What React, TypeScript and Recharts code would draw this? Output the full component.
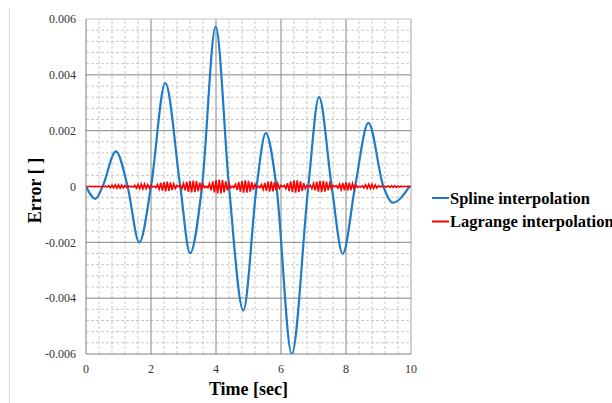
// App.tsx
import React from 'react';
import { LineChart, Line, XAxis, YAxis, ReferenceLine } from 'recharts';

// Spline interpolation error: extrema and zero crossings
const splineTime = [
  0, 0.29, 0.51, 0.92, 1.28, 1.64, 2.0, 2.44, 2.9, 3.2, 3.57, 3.99, 4.4, 4.84,
  5.25, 5.53, 5.86, 6.33, 6.84, 7.17, 7.56, 7.9, 8.28, 8.69, 9.15, 9.44, 9.97,
];
const splineError = [
  0, -0.00044, 0, 0.00126, 0, -0.002, 0, 0.0037, 0, -0.00239, 0, 0.00573, 0, -0.00444,
  0, 0.00191, 0, -0.006, 0, 0.0032, 0, -0.00241, 0, 0.00228, 0, -0.00058, 0.00003,
];

// Lagrange interpolation error, sampled every 0.05 s (fast ripple with beating envelope)
const lagrangeStep = 0.05;
const lagrangeError = [
  0, -1e-5, 1e-5, -1e-5, 1e-5, -1e-5, 1e-5, -1e-5, 1e-5, -1e-5, 1e-5, -1e-5, 1e-5, -2e-5, 3e-5, -4e-5,
  5e-5, -5e-5, 6e-5, -6e-5, 6e-5, -6e-5, 5e-5, -5e-5, 4e-5, -3e-5, 2e-5, -1e-5, 1e-5, -2e-5, 4e-5, -6e-5,
  7e-5, -8e-5, 9e-5, -9e-5, 9e-5, -8e-5, 7e-5, -6e-5, 4e-5, -2e-5, 1e-5, -4e-5, 7e-5, -10e-5, 13e-5, -15e-5,
  16e-5, -17e-5, 17e-5, -16e-5, 15e-5, -13e-5, 10e-5, -7e-5, 4e-5, -1e-5, 4e-5, -8e-5, 11e-5, -14e-5, 17e-5, -19e-5,
  20e-5, -21e-5, 21e-5, -20e-5, 19e-5, -17e-5, 14e-5, -11e-5, 8e-5, -4e-5, 1e-5, -5e-5, 10e-5, -14e-5, 18e-5, -21e-5,
  23e-5, -25e-5, 25e-5, -25e-5, 23e-5, -21e-5, 18e-5, -14e-5, 10e-5, -5e-5, 1e-5, -4e-5, 8e-5, -12e-5, 16e-5, -18e-5,
  20e-5, -22e-5, 22e-5, -22e-5, 20e-5, -18e-5, 16e-5, -12e-5, 8e-5, -4e-5, 1e-5, -4e-5, 7e-5, -11e-5, 13e-5, -16e-5,
  17e-5, -18e-5, 18e-5, -17e-5, 16e-5, -13e-5, 11e-5, -7e-5, 4e-5, -1e-5, 4e-5, -8e-5, 12e-5, -16e-5, 18e-5, -20e-5,
  22e-5, -22e-5, 22e-5, -20e-5, 18e-5, -16e-5, 12e-5, -8e-5, 4e-5, -1e-5, 4e-5, -8e-5, 11e-5, -14e-5, 17e-5, -18e-5,
  20e-5, -20e-5, 20e-5, -18e-5, 17e-5, -14e-5, 11e-5, -8e-5, 4e-5, -1e-5, 3e-5, -6e-5, 9e-5, -11e-5, 13e-5, -14e-5,
  15e-5, -15e-5, 14e-5, -13e-5, 11e-5, -9e-5, 6e-5, -3e-5, 1e-5, -2e-5, 3e-5, -5e-5, 6e-5, -7e-5, 8e-5, -8e-5,
  8e-5, -7e-5, 6e-5, -5e-5, 3e-5, -2e-5, 1e-5, -1e-5, 1e-5, -2e-5, 2e-5, -3e-5, 3e-5, -3e-5, 3e-5, -3e-5,
  2e-5, -2e-5, 1e-5, -1e-5, 1e-5, -1e-5, 1e-5, -1e-5, 0,
];

const xTicks = [0, 2, 4, 6, 8, 10];
const yTicks = [-0.006, -0.004, -0.002, 0, 0.002, 0.004, 0.006];
const majorX = [2, 4, 6, 8];
const majorY = [-0.004, -0.002, 0, 0.002, 0.004];
const minorX = [0.4, 0.8, 1.2, 1.6, 2.4, 2.8, 3.2, 3.6, 4.4, 4.8, 5.2, 5.6, 6.4, 6.8, 7.2, 7.6, 8.4, 8.8, 9.2, 9.6];
const minorY = [
  -0.0056, -0.0052, -0.0048, -0.0044, -0.0036, -0.0032, -0.0028, -0.0024, -0.0016, -0.0012, -0.0008, -0.0004,
  0.0004, 0.0008, 0.0012, 0.0016, 0.0024, 0.0028, 0.0032, 0.0036, 0.0044, 0.0048, 0.0052, 0.0056,
];

const seriesNames = ['Spline interpolation', 'Lagrange interpolation'];
const seriesColors = ['#1f7bc6', '#ff0000'];

const splineData = splineTime.map((t, i) => ({ t, v: splineError[i] }));
const lagrangeData = lagrangeError.map((v, i) => ({ t: +(i * lagrangeStep).toFixed(2), v }));

const serif = '"Liberation Serif", "Times New Roman", serif';
const tickTextStyle = { fontFamily: serif, fontSize: 12, fill: '#333' };

// custom ticks so the serif face is actually applied
const XTick = (props: any) => (
  <text x={props.x} y={props.y} dy="0.71em" textAnchor="middle" style={tickTextStyle}>
    {props.payload.value}
  </text>
);
const YTick = (props: any) => (
  <text x={props.x} y={props.y} dy="0.355em" textAnchor="end" style={tickTextStyle}>
    {props.payload.value}
  </text>
);

const App: React.FC = () => {
  return (
    <div
      style={{
        position: 'absolute', left: 0, top: 0, width: 612, height: 403,
        overflow: 'hidden', background: '#fff', fontFamily: serif,
      }}
    >
      {/* thin frame line at left */}
      <div style={{ position: 'absolute', left: 9, top: 8, width: 1, height: 395, background: '#d9d9d9' }} />
      <LineChart width={612} height={403} margin={{ top: 19, right: 201, bottom: 19, left: 10 }}>
        <XAxis
          dataKey="t"
          type="number"
          domain={[0, 10]}
          ticks={xTicks}
          allowDataOverflow
          height={30}
          tickLine={false}
          tickSize={8}
          tickMargin={2}
          axisLine={{ stroke: '#7f7f7f' }}
          tick={XTick}
          label={({ viewBox }: any) => (
            <text
              x={viewBox.x + viewBox.width / 2}
              y={viewBox.y + 41}
              textAnchor="middle"
              style={{ fontFamily: serif, fontSize: 18, fontWeight: 'bold', fill: '#000' }}
            >
              Time [sec]
            </text>
          )}
        />
        <YAxis
          type="number"
          domain={[-0.006, 0.006]}
          ticks={yTicks}
          allowDataOverflow
          width={76}
          tickLine={false}
          tickSize={8}
          tickMargin={2}
          axisLine={{ stroke: '#7f7f7f' }}
          tick={YTick}
          label={({ viewBox }: any) => {
            const cx = viewBox.x + 31;
            const cy = viewBox.y + viewBox.height / 2 + 4;
            return (
              <text
                x={cx}
                y={cy}
                textAnchor="middle"
                transform={`rotate(-90 ${cx} ${cy})`}
                style={{ fontFamily: serif, fontSize: 18, fontWeight: 'bold', fill: '#000' }}
              >
                Error [ ]
              </text>
            );
          }}
        />
        {minorX.map((x) => (
          <ReferenceLine key={'mx' + x} x={x} stroke="#c8c8c8" strokeDasharray="3 2" />
        ))}
        {minorY.map((y) => (
          <ReferenceLine key={'my' + y} y={y} stroke="#c8c8c8" strokeDasharray="3 2" />
        ))}
        {majorX.map((x) => (
          <ReferenceLine key={'Mx' + x} x={x} stroke="#858585" />
        ))}
        {majorY.map((y) => (
          <ReferenceLine key={'My' + y} y={y} stroke="#858585" />
        ))}
        <ReferenceLine y={0.006} stroke="#c0c0c0" />
        <ReferenceLine x={10} stroke="#a0a0a0" />
        <Line
          data={splineData}
          dataKey="v"
          type="monotone"
          stroke={seriesColors[0]}
          strokeWidth={2.2}
          dot={false}
          isAnimationActive={false}
        />
        <Line
          data={lagrangeData}
          dataKey="v"
          type="linear"
          stroke={seriesColors[1]}
          strokeWidth={1.6}
          dot={false}
          isAnimationActive={false}
        />
      </LineChart>
      {/* legend */}
      <svg style={{ position: 'absolute', left: 0, top: 0 }} width={612} height={403}>
        {seriesNames.map((name, i) => (
          <g key={name}>
            <line x1={432} x2={449} y1={198 + i * 23.5} y2={198 + i * 23.5} stroke={seriesColors[i]} strokeWidth={2} />
            <text
              x={450}
              y={203.5 + i * 23.5}
              style={{ fontFamily: serif, fontSize: 16.5, fontWeight: 'bold', fill: '#000' }}
            >
              {name}
            </text>
          </g>
        ))}
      </svg>
    </div>
  );
};

export default App;
